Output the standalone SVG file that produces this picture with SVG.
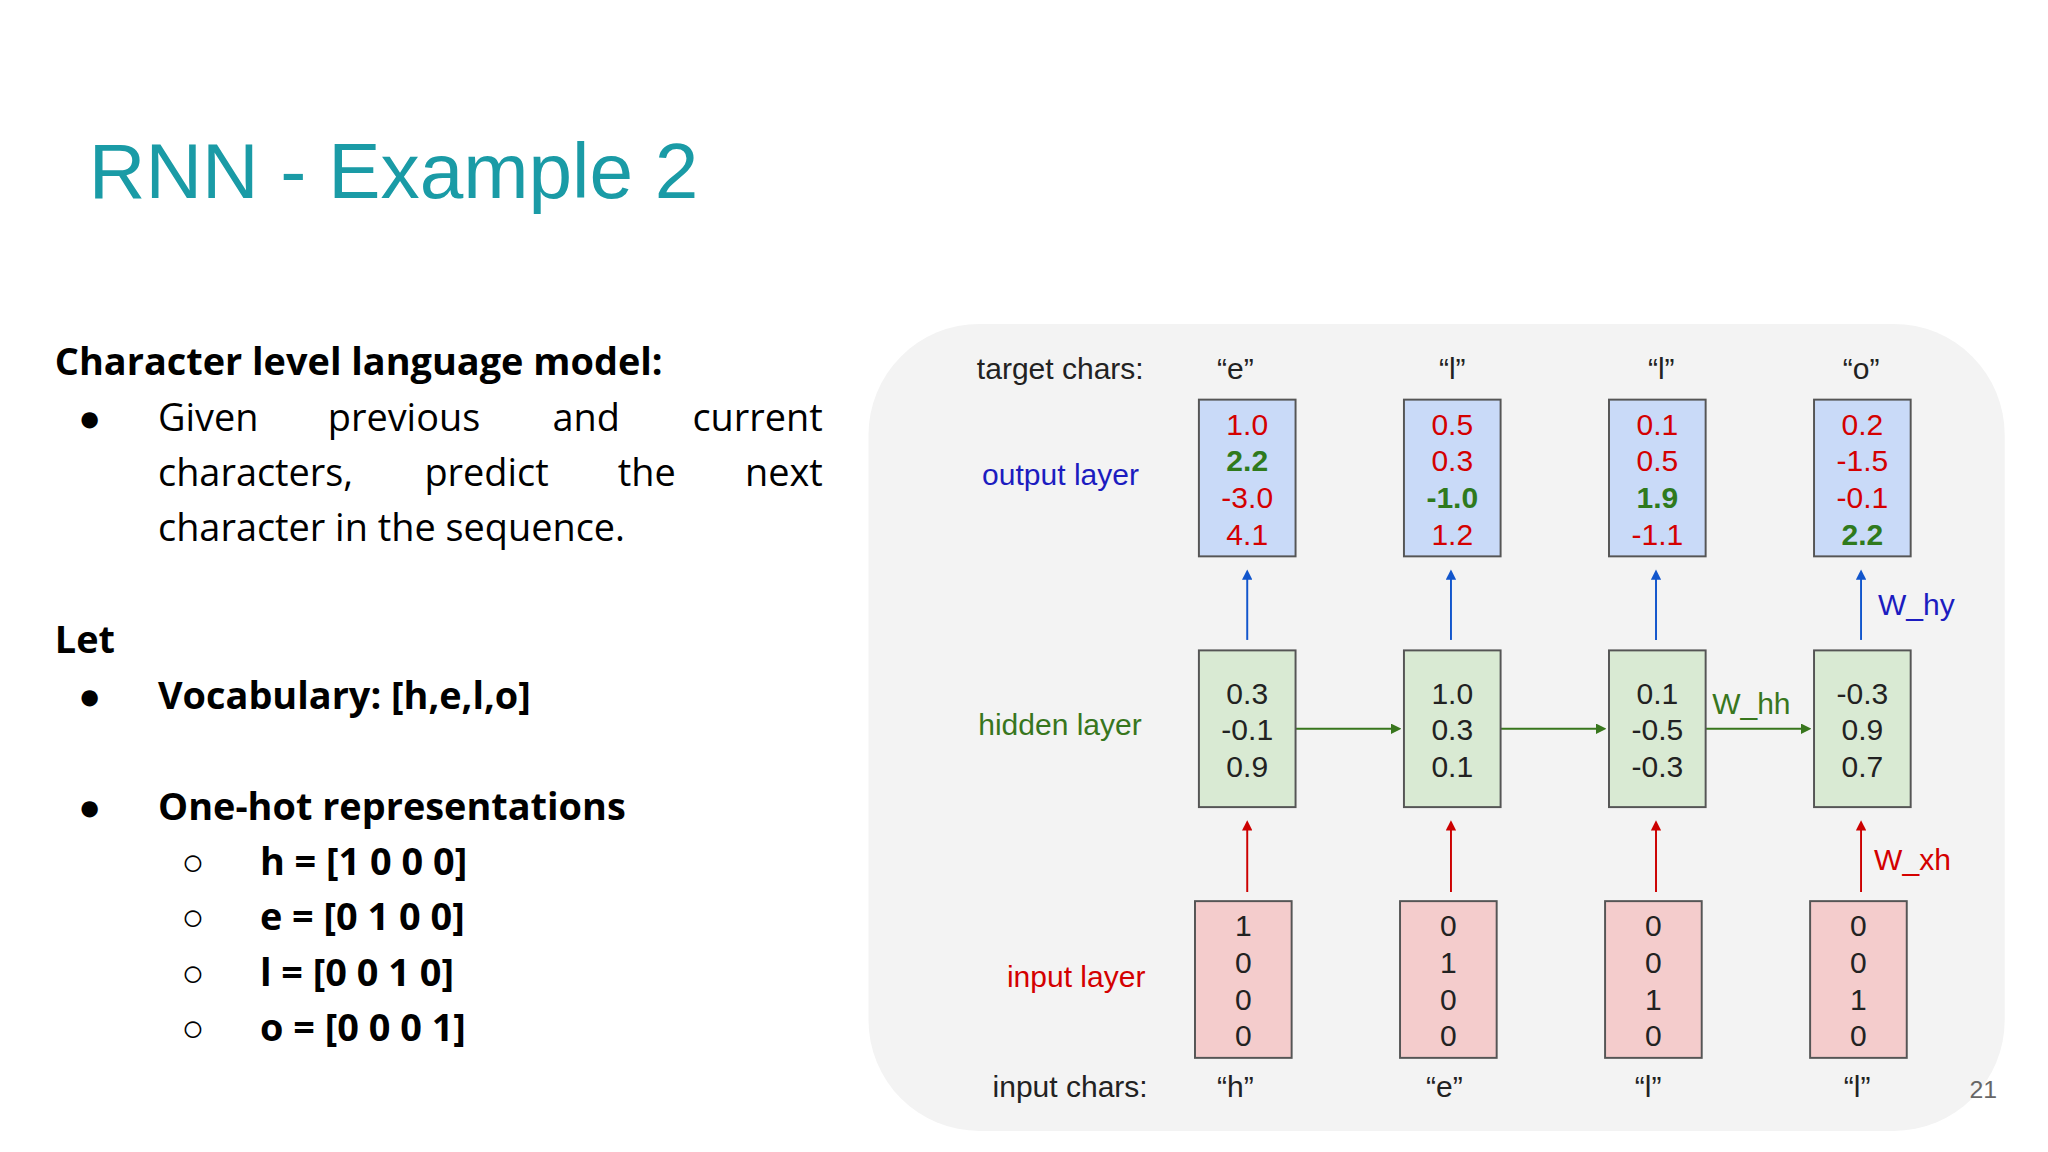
<svg xmlns="http://www.w3.org/2000/svg" width="2048" height="1152" viewBox="0 0 2048 1152">
<defs>
<style>
.t{font-family:"Open Sans","Liberation Sans",sans-serif;font-size:29px;fill:#000}
.b{font-weight:bold}
.a{font-family:"Liberation Sans",Arial,sans-serif;font-size:23px}
.n{font-family:"Liberation Sans",Arial,sans-serif;font-size:23px;text-anchor:middle}
.ob{fill:#c9daf8;stroke:#555;stroke-width:1.5}
.hb{fill:#d9ead3;stroke:#555;stroke-width:1.5}
.ib{fill:#f4cccc;stroke:#555;stroke-width:1.5}
.r{fill:#d40000}.g{fill:#2f7a1d;font-weight:bold}.k{fill:#222}
</style>
<marker id="mb" markerWidth="8" markerHeight="8" refX="4" refY="4" orient="auto" markerUnits="userSpaceOnUse"><path d="M0,0 L8,4 L0,8 z" fill="#1155cc"/></marker>
<marker id="mr" markerWidth="8" markerHeight="8" refX="4" refY="4" orient="auto" markerUnits="userSpaceOnUse"><path d="M0,0 L8,4 L0,8 z" fill="#cc0000"/></marker>
<marker id="mg" markerWidth="8" markerHeight="8" refX="4" refY="4" orient="auto" markerUnits="userSpaceOnUse"><path d="M0,0 L8,4 L0,8 z" fill="#38761d"/></marker>
</defs>
<rect width="2048" height="1152" fill="#fff"/>
<g transform="scale(1.306)">
<text x="68" y="152" font-family="Liberation Sans,Arial,sans-serif" font-size="60" fill="#1a9ba6">RNN - Example 2</text>
<g id="left">
<text class="t b" x="42" y="287">Character level language model:</text>
<text class="t" x="60" y="330">●</text>
<text class="t" x="121" y="330">Given</text><text class="t" x="251" y="330">previous</text><text class="t" x="423" y="330">and</text><text class="t" x="630" y="330" text-anchor="end">current</text>
<text class="t" x="121" y="372">characters,</text><text class="t" x="325" y="372">predict</text><text class="t" x="473" y="372">the</text><text class="t" x="630" y="372" text-anchor="end">next</text>
<text class="t" x="121" y="414">character in the sequence.</text>
<text class="t b" x="42" y="500">Let</text>
<text class="t" x="60" y="543">●</text><text class="t b" x="121" y="543">Vocabulary: [h,e,l,o]</text>
<text class="t" x="60" y="628">●</text><text class="t b" x="121" y="628">One-hot representations</text>
<text class="t" x="139" y="670">○</text><text class="t b" x="199" y="670">h = [1 0 0 0]</text>
<text class="t" x="139" y="712">○</text><text class="t b" x="199" y="712">e = [0 1 0 0]</text>
<text class="t" x="139" y="755">○</text><text class="t b" x="199" y="755">l  = [0 0 1 0]</text>
<text class="t" x="139" y="797">○</text><text class="t b" x="199" y="797">o = [0 0 0 1]</text>
</g>
<rect x="665" y="248" width="870" height="618" rx="85" fill="#f3f3f3"/>
<g id="labels" class="a">
<text x="748" y="290" fill="#222">target chars:</text>
<text x="752" y="371" fill="#1c1cc0">output layer</text>
<text x="749" y="563" fill="#38761d">hidden layer</text>
<text x="771" y="756" fill="#d40000">input layer</text>
<text x="760" y="840" fill="#222">input chars:</text>
<text x="946" y="290" fill="#222" text-anchor="middle">“e”</text>
<text x="1112" y="290" fill="#222" text-anchor="middle">“l”</text>
<text x="1272" y="290" fill="#222" text-anchor="middle">“l”</text>
<text x="1425" y="290" fill="#222" text-anchor="middle">“o”</text>
<text x="946" y="840" fill="#222" text-anchor="middle">“h”</text>
<text x="1106" y="840" fill="#222" text-anchor="middle">“e”</text>
<text x="1262" y="840" fill="#222" text-anchor="middle">“l”</text>
<text x="1422" y="840" fill="#222" text-anchor="middle">“l”</text>
<text x="1438" y="471" fill="#1c1cc0">W_hy</text>
<text x="1311" y="547" fill="#38761d">W_hh</text>
<text x="1435" y="666" fill="#d40000">W_xh</text>
<text x="1508" y="841" fill="#666" font-size="19">21</text>
</g>
<g id="connectors" stroke-width="1.5">
<g stroke="#1155cc" marker-end="url(#mb)"><line x1="955" y1="490" x2="955" y2="440"/><line x1="1111" y1="490" x2="1111" y2="440"/><line x1="1268" y1="490" x2="1268" y2="440"/><line x1="1425" y1="490" x2="1425" y2="440"/></g>
<g stroke="#cc0000" marker-end="url(#mr)"><line x1="955" y1="683" x2="955" y2="632"/><line x1="1111" y1="683" x2="1111" y2="632"/><line x1="1268" y1="683" x2="1268" y2="632"/><line x1="1425" y1="683" x2="1425" y2="632"/></g>
<g stroke="#38761d" marker-end="url(#mg)"><line x1="992" y1="558" x2="1069" y2="558"/><line x1="1149" y1="558" x2="1226" y2="558"/><line x1="1306" y1="558" x2="1383" y2="558"/></g>
</g>
<g id="o1"><rect class="ob" x="918" y="306" width="74" height="120"/><text class="n" x="955"><tspan class="r" x="955" y="333">1.0</tspan><tspan class="g" x="955" y="361">2.2</tspan><tspan class="r" x="955" y="389">-3.0</tspan><tspan class="r" x="955" y="417">4.1</tspan></text></g>
<g id="o2"><rect class="ob" x="1075" y="306" width="74" height="120"/><text class="n"><tspan class="r" x="1112" y="333">0.5</tspan><tspan class="r" x="1112" y="361">0.3</tspan><tspan class="g" x="1112" y="389">-1.0</tspan><tspan class="r" x="1112" y="417">1.2</tspan></text></g>
<g id="o3"><rect class="ob" x="1232" y="306" width="74" height="120"/><text class="n"><tspan class="r" x="1269" y="333">0.1</tspan><tspan class="r" x="1269" y="361">0.5</tspan><tspan class="g" x="1269" y="389">1.9</tspan><tspan class="r" x="1269" y="417">-1.1</tspan></text></g>
<g id="o4"><rect class="ob" x="1389" y="306" width="74" height="120"/><text class="n"><tspan class="r" x="1426" y="333">0.2</tspan><tspan class="r" x="1426" y="361">-1.5</tspan><tspan class="r" x="1426" y="389">-0.1</tspan><tspan class="g" x="1426" y="417">2.2</tspan></text></g>
<g id="h1"><rect class="hb" x="918" y="498" width="74" height="120"/><text class="n k"><tspan x="955" y="539">0.3</tspan><tspan x="955" y="567">-0.1</tspan><tspan x="955" y="595">0.9</tspan></text></g>
<g id="h2"><rect class="hb" x="1075" y="498" width="74" height="120"/><text class="n k"><tspan x="1112" y="539">1.0</tspan><tspan x="1112" y="567">0.3</tspan><tspan x="1112" y="595">0.1</tspan></text></g>
<g id="h3"><rect class="hb" x="1232" y="498" width="74" height="120"/><text class="n k"><tspan x="1269" y="539">0.1</tspan><tspan x="1269" y="567">-0.5</tspan><tspan x="1269" y="595">-0.3</tspan></text></g>
<g id="h4"><rect class="hb" x="1389" y="498" width="74" height="120"/><text class="n k"><tspan x="1426" y="539">-0.3</tspan><tspan x="1426" y="567">0.9</tspan><tspan x="1426" y="595">0.7</tspan></text></g>
<g id="i1"><rect class="ib" x="915" y="690" width="74" height="120"/><text class="n k"><tspan x="952" y="717">1</tspan><tspan x="952" y="745">0</tspan><tspan x="952" y="773">0</tspan><tspan x="952" y="801">0</tspan></text></g>
<g id="i2"><rect class="ib" x="1072" y="690" width="74" height="120"/><text class="n k"><tspan x="1109" y="717">0</tspan><tspan x="1109" y="745">1</tspan><tspan x="1109" y="773">0</tspan><tspan x="1109" y="801">0</tspan></text></g>
<g id="i3"><rect class="ib" x="1229" y="690" width="74" height="120"/><text class="n k"><tspan x="1266" y="717">0</tspan><tspan x="1266" y="745">0</tspan><tspan x="1266" y="773">1</tspan><tspan x="1266" y="801">0</tspan></text></g>
<g id="i4"><rect class="ib" x="1386" y="690" width="74" height="120"/><text class="n k"><tspan x="1423" y="717">0</tspan><tspan x="1423" y="745">0</tspan><tspan x="1423" y="773">1</tspan><tspan x="1423" y="801">0</tspan></text></g>
</g>
</svg>
